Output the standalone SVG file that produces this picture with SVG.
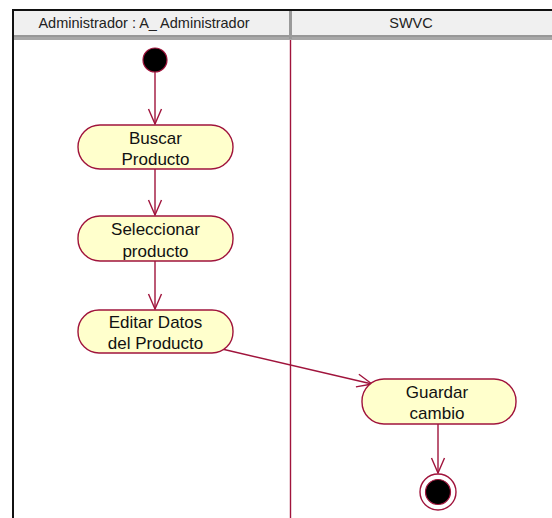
<svg xmlns="http://www.w3.org/2000/svg" width="552" height="518" viewBox="0 0 552 518">
<defs>
<style>
.act{fill:#ffffcc;stroke:#a0143c;stroke-width:1.4}
.lbl{font-family:"Liberation Sans",Arial,sans-serif;font-size:17px;fill:#111;text-anchor:middle}
.hdr{font-family:"Liberation Sans",Arial,sans-serif;font-size:14.5px;fill:#222;text-anchor:middle}
.edge{fill:none;stroke:#a0143c;stroke-width:1.4}
</style>
<marker id="arr" viewBox="-16 -9 18 18" markerWidth="18" markerHeight="18" refX="0" refY="0" orient="auto" markerUnits="userSpaceOnUse">
<path d="M-15,-6.5 L0,0 L-15,6.5" fill="none" stroke="#a0143c" stroke-width="1.4"/>
</marker>
</defs>
<rect width="552" height="518" fill="#ffffff"/>
<g id="swimlanes">
<rect x="13" y="10" width="545" height="27" fill="#f0f0f0"/>
<line x1="13" y1="10" x2="552" y2="10" stroke="#111" stroke-width="2"/>
<rect x="13" y="35" width="545" height="5" fill="#a8a8a8"/>
<line x1="13" y1="36" x2="552" y2="36" stroke="#888" stroke-width="1"/>
<line x1="13" y1="9" x2="13" y2="518" stroke="#111" stroke-width="2"/>
<rect x="289" y="11" width="3" height="28" fill="#9a9a9a"/>
<line x1="290.5" y1="40" x2="290.5" y2="518" stroke="#a0143c" stroke-width="1.4"/>
<text class="hdr" x="144" y="28">Administrador : A_ Administrador</text>
<text class="hdr" x="411" y="28">SWVC</text>
</g>
<g id="connectors">
<line class="edge" x1="155" y1="72" x2="155" y2="124" marker-end="url(#arr)"/>
<line class="edge" x1="155" y1="169" x2="155" y2="215" marker-end="url(#arr)"/>
<line class="edge" x1="155" y1="261" x2="155" y2="309" marker-end="url(#arr)"/>
<line class="edge" x1="222" y1="349" x2="372" y2="384" marker-end="url(#arr)"/>
<line class="edge" x1="438" y1="424" x2="438" y2="473" marker-end="url(#arr)"/>
</g>
<g id="start">
<circle cx="155" cy="60" r="12" fill="#000" stroke="#a0143c" stroke-width="1.2"/>
</g>
<g id="buscar">
<rect class="act" x="78" y="125" width="155" height="44" rx="22" ry="22"/>
<text class="lbl" x="155.5" y="144">Buscar</text>
<text class="lbl" x="155.5" y="165">Producto</text>
</g>
<g id="seleccionar">
<rect class="act" x="78" y="216" width="155" height="45" rx="22" ry="22"/>
<text class="lbl" x="155.5" y="235">Seleccionar</text>
<text class="lbl" x="155.5" y="257">producto</text>
</g>
<g id="editar">
<rect class="act" x="78" y="310" width="155" height="43" rx="21" ry="21"/>
<text class="lbl" x="155.5" y="328">Editar Datos</text>
<text class="lbl" x="155.5" y="349">del Producto</text>
</g>
<g id="guardar">
<rect class="act" x="362" y="379" width="154" height="45" rx="22" ry="22"/>
<text class="lbl" x="437" y="398">Guardar</text>
<text class="lbl" x="437" y="419">cambio</text>
</g>
<g id="end">
<circle cx="438" cy="492" r="18" fill="#fff" stroke="#a0143c" stroke-width="1.4"/>
<circle cx="438" cy="492" r="12.5" fill="#000" stroke="#a0143c" stroke-width="1.2"/>
</g>
</svg>
